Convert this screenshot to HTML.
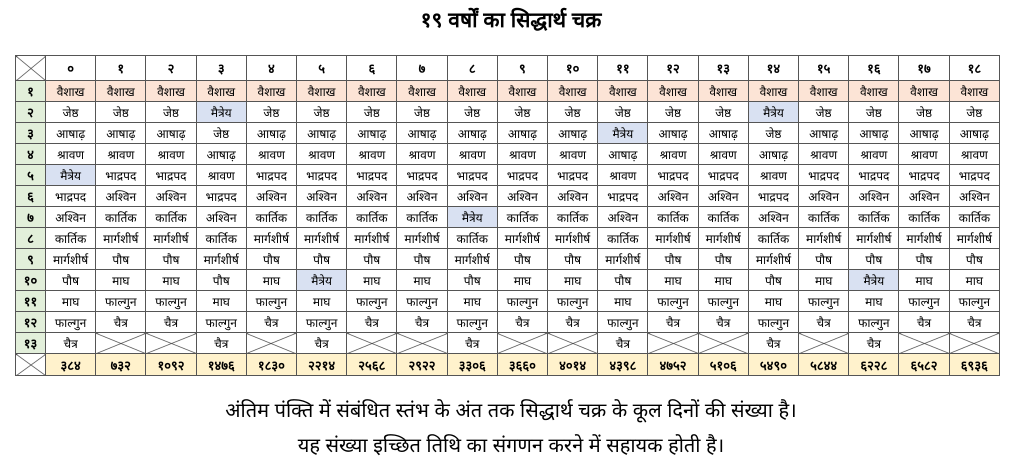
<!DOCTYPE html>
<html><head><meta charset="utf-8">
<style>
html,body{margin:0;padding:0;background:#fff;width:1022px;height:474px;overflow:hidden;font-family:"Liberation Sans","Noto Sans CJK SC",sans-serif;color:#000}
.t{position:absolute;left:0;width:1022px;text-align:center}
h1{position:absolute;left:0;top:6px;width:1022px;text-align:center;margin:0;font-size:21px;font-weight:bold}
table{position:absolute;left:15px;top:55px;border-collapse:collapse;table-layout:fixed;width:985px;border:1.5px solid #333}
td{border:1px solid #555;text-align:center;font-size:12px;padding:0;height:20px;overflow:hidden;white-space:nowrap}
tr.h td{height:24px;font-weight:bold;font-size:13px}
tr.s td{height:21px;font-weight:bold;font-size:13px;background:#fff2cc}
td.r{background:#e2efda;font-weight:bold;font-size:13px}
tr.v td{background:#fce4d6}
tr.v td.r{background:#e2efda}
td.m{background:#d9e1f2}
td.x,tr.s td.x,tr.h td.x{background-color:#fff;background-image:linear-gradient(to top right,transparent calc(50% - 0.7px),#444 50%,transparent calc(50% + 0.7px)),linear-gradient(to bottom right,transparent calc(50% - 0.7px),#444 50%,transparent calc(50% + 0.7px))}
</style></head><body>
<h1>१९ वर्षों का सिद्धार्थ चक्र</h1>
<table>
<colgroup><col style="width:30px"><col span="19"></colgroup>
<tr class="h"><td class="x"></td><td>०</td><td>१</td><td>२</td><td>३</td><td>४</td><td>५</td><td>६</td><td>७</td><td>८</td><td>९</td><td>१०</td><td>११</td><td>१२</td><td>१३</td><td>१४</td><td>१५</td><td>१६</td><td>१७</td><td>१८</td></tr>
<tr class="v"><td class="r">१</td><td>वैशाख</td><td>वैशाख</td><td>वैशाख</td><td>वैशाख</td><td>वैशाख</td><td>वैशाख</td><td>वैशाख</td><td>वैशाख</td><td>वैशाख</td><td>वैशाख</td><td>वैशाख</td><td>वैशाख</td><td>वैशाख</td><td>वैशाख</td><td>वैशाख</td><td>वैशाख</td><td>वैशाख</td><td>वैशाख</td><td>वैशाख</td></tr>
<tr><td class="r">२</td><td>जेष्ठ</td><td>जेष्ठ</td><td>जेष्ठ</td><td class="m">मैत्रेय</td><td>जेष्ठ</td><td>जेष्ठ</td><td>जेष्ठ</td><td>जेष्ठ</td><td>जेष्ठ</td><td>जेष्ठ</td><td>जेष्ठ</td><td>जेष्ठ</td><td>जेष्ठ</td><td>जेष्ठ</td><td class="m">मैत्रेय</td><td>जेष्ठ</td><td>जेष्ठ</td><td>जेष्ठ</td><td>जेष्ठ</td></tr>
<tr><td class="r">३</td><td>आषाढ़</td><td>आषाढ़</td><td>आषाढ़</td><td>जेष्ठ</td><td>आषाढ़</td><td>आषाढ़</td><td>आषाढ़</td><td>आषाढ़</td><td>आषाढ़</td><td>आषाढ़</td><td>आषाढ़</td><td class="m">मैत्रेय</td><td>आषाढ़</td><td>आषाढ़</td><td>जेष्ठ</td><td>आषाढ़</td><td>आषाढ़</td><td>आषाढ़</td><td>आषाढ़</td></tr>
<tr><td class="r">४</td><td>श्रावण</td><td>श्रावण</td><td>श्रावण</td><td>आषाढ़</td><td>श्रावण</td><td>श्रावण</td><td>श्रावण</td><td>श्रावण</td><td>श्रावण</td><td>श्रावण</td><td>श्रावण</td><td>आषाढ़</td><td>श्रावण</td><td>श्रावण</td><td>आषाढ़</td><td>श्रावण</td><td>श्रावण</td><td>श्रावण</td><td>श्रावण</td></tr>
<tr><td class="r">५</td><td class="m">मैत्रेय</td><td>भाद्रपद</td><td>भाद्रपद</td><td>श्रावण</td><td>भाद्रपद</td><td>भाद्रपद</td><td>भाद्रपद</td><td>भाद्रपद</td><td>भाद्रपद</td><td>भाद्रपद</td><td>भाद्रपद</td><td>श्रावण</td><td>भाद्रपद</td><td>भाद्रपद</td><td>श्रावण</td><td>भाद्रपद</td><td>भाद्रपद</td><td>भाद्रपद</td><td>भाद्रपद</td></tr>
<tr><td class="r">६</td><td>भाद्रपद</td><td>अश्विन</td><td>अश्विन</td><td>भाद्रपद</td><td>अश्विन</td><td>अश्विन</td><td>अश्विन</td><td>अश्विन</td><td>अश्विन</td><td>अश्विन</td><td>अश्विन</td><td>भाद्रपद</td><td>अश्विन</td><td>अश्विन</td><td>भाद्रपद</td><td>अश्विन</td><td>अश्विन</td><td>अश्विन</td><td>अश्विन</td></tr>
<tr><td class="r">७</td><td>अश्विन</td><td>कार्तिक</td><td>कार्तिक</td><td>अश्विन</td><td>कार्तिक</td><td>कार्तिक</td><td>कार्तिक</td><td>कार्तिक</td><td class="m">मैत्रेय</td><td>कार्तिक</td><td>कार्तिक</td><td>अश्विन</td><td>कार्तिक</td><td>कार्तिक</td><td>अश्विन</td><td>कार्तिक</td><td>कार्तिक</td><td>कार्तिक</td><td>कार्तिक</td></tr>
<tr><td class="r">८</td><td>कार्तिक</td><td>मार्गशीर्ष</td><td>मार्गशीर्ष</td><td>कार्तिक</td><td>मार्गशीर्ष</td><td>मार्गशीर्ष</td><td>मार्गशीर्ष</td><td>मार्गशीर्ष</td><td>कार्तिक</td><td>मार्गशीर्ष</td><td>मार्गशीर्ष</td><td>कार्तिक</td><td>मार्गशीर्ष</td><td>मार्गशीर्ष</td><td>कार्तिक</td><td>मार्गशीर्ष</td><td>मार्गशीर्ष</td><td>मार्गशीर्ष</td><td>मार्गशीर्ष</td></tr>
<tr><td class="r">९</td><td>मार्गशीर्ष</td><td>पौष</td><td>पौष</td><td>मार्गशीर्ष</td><td>पौष</td><td>पौष</td><td>पौष</td><td>पौष</td><td>मार्गशीर्ष</td><td>पौष</td><td>पौष</td><td>मार्गशीर्ष</td><td>पौष</td><td>पौष</td><td>मार्गशीर्ष</td><td>पौष</td><td>पौष</td><td>पौष</td><td>पौष</td></tr>
<tr><td class="r">१०</td><td>पौष</td><td>माघ</td><td>माघ</td><td>पौष</td><td>माघ</td><td class="m">मैत्रेय</td><td>माघ</td><td>माघ</td><td>पौष</td><td>माघ</td><td>माघ</td><td>पौष</td><td>माघ</td><td>माघ</td><td>पौष</td><td>माघ</td><td class="m">मैत्रेय</td><td>माघ</td><td>माघ</td></tr>
<tr><td class="r">११</td><td>माघ</td><td>फाल्गुन</td><td>फाल्गुन</td><td>माघ</td><td>फाल्गुन</td><td>माघ</td><td>फाल्गुन</td><td>फाल्गुन</td><td>माघ</td><td>फाल्गुन</td><td>फाल्गुन</td><td>माघ</td><td>फाल्गुन</td><td>फाल्गुन</td><td>माघ</td><td>फाल्गुन</td><td>माघ</td><td>फाल्गुन</td><td>फाल्गुन</td></tr>
<tr><td class="r">१२</td><td>फाल्गुन</td><td>चैत्र</td><td>चैत्र</td><td>फाल्गुन</td><td>चैत्र</td><td>फाल्गुन</td><td>चैत्र</td><td>चैत्र</td><td>फाल्गुन</td><td>चैत्र</td><td>चैत्र</td><td>फाल्गुन</td><td>चैत्र</td><td>चैत्र</td><td>फाल्गुन</td><td>चैत्र</td><td>फाल्गुन</td><td>चैत्र</td><td>चैत्र</td></tr>
<tr><td class="r">१३</td><td>चैत्र</td><td class="x"></td><td class="x"></td><td>चैत्र</td><td class="x"></td><td>चैत्र</td><td class="x"></td><td class="x"></td><td>चैत्र</td><td class="x"></td><td class="x"></td><td>चैत्र</td><td class="x"></td><td class="x"></td><td>चैत्र</td><td class="x"></td><td>चैत्र</td><td class="x"></td><td class="x"></td></tr>
<tr class="s"><td class="x"></td><td>३८४</td><td>७३२</td><td>१०९२</td><td>१४७६</td><td>१८३०</td><td>२२१४</td><td>२५६८</td><td>२९२२</td><td>३३०६</td><td>३६६०</td><td>४०१४</td><td>४३९८</td><td>४७५२</td><td>५१०६</td><td>५४९०</td><td>५८४४</td><td>६२२८</td><td>६५८२</td><td>६९३६</td></tr>
</table>
<div class="t" style="top:396px;font-size:20px">अंतिम पंक्ति में संबंधित स्तंभ के अंत तक सिद्धार्थ चक्र के कूल दिनों की संख्या है।</div>
<div class="t" style="top:431px;font-size:20px">यह संख्या इच्छित तिथि का संगणन करने में सहायक होती है।</div>
</body></html>
